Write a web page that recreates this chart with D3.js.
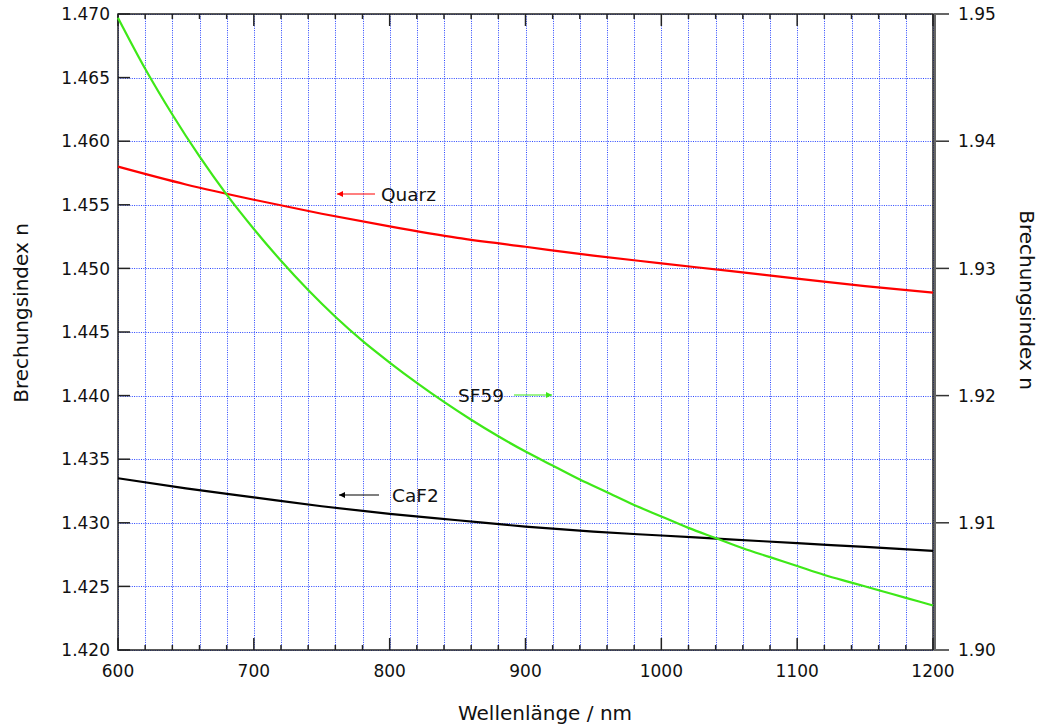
<!DOCTYPE html>
<html><head><meta charset="utf-8">
<script src="https://cdn.jsdelivr.net/npm/d3@7"></script>
<style>
body{margin:0;background:#fff;}
svg{display:block;font-family:"DejaVu Sans",sans-serif;}
</style></head>
<body><svg id="c" width="1040" height="727"></svg>
<script>
// ---- data ----
const quarzWl = [600,650,700,750,800,850,900,950,1000,1050,1100,1150,1200];
const quarzN  = [1.4580,1.4566,1.4554,1.4543,1.4533,1.4524,1.4517,1.4510,1.4504,1.4498,1.4492,1.4486,1.4481];
const caf2Wl  = [600,650,700,750,800,850,900,950,1000,1050,1100,1150,1200];
const caf2N   = [1.4335,1.4327,1.4320,1.4313,1.4307,1.4302,1.4297,1.4293,1.4290,1.4287,1.4284,1.4281,1.4278];
const sf59Wl  = [600,620,640,660,680,700,720,740,760,780,800,820,840,860,880,900,920,940,960,980,1000,1020,1040,1060,1080,1100,1120,1140,1160,1180,1200];
const sf59N   = [1.9497,1.9457,1.9421,1.9388,1.9358,1.9331,1.9306,1.9283,1.9262,1.9243,1.9226,1.9210,1.9195,1.9181,1.9168,1.9156,1.9145,1.9134,1.9124,1.9114,1.9105,1.9096,1.9088,1.9080,1.9073,1.9066,1.9059,1.9053,1.9047,1.9041,1.9035];
const xTicks      = [600,700,800,900,1000,1100,1200];
const leftTicks   = [1.420,1.425,1.430,1.435,1.440,1.445,1.450,1.455,1.460,1.465,1.470];
const rightTicks  = [1.90,1.91,1.92,1.93,1.94,1.95];
const xLabel = "Wellenlänge / nm";
const yLabel = "Brechungsindex n";

// ---- layout ----
const L=118, R=933, T=14, B=650;
const svg=d3.select("#c");
const x=d3.scaleLinear().domain([600,1200]).range([L,R]);
const yL=d3.scaleLinear().domain([1.420,1.470]).range([B,T]);
const yR=d3.scaleLinear().domain([1.90,1.95]).range([B,T]);
const gridBlue="#2a46ff";

// grid
const minorX=d3.range(600,1200.1,20);
svg.append("g").selectAll("line").data(minorX).join("line")
  .attr("x1",d=>Math.round(x(d))+0.5).attr("x2",d=>Math.round(x(d))+0.5).attr("y1",T).attr("y2",B)
  .attr("stroke",gridBlue).attr("stroke-width",1).attr("stroke-dasharray","1,1.3");
svg.append("g").selectAll("line").data(leftTicks).join("line")
  .attr("x1",L).attr("x2",R).attr("y1",d=>Math.round(yL(d))+0.5).attr("y2",d=>Math.round(yL(d))+0.5)
  .attr("stroke",gridBlue).attr("stroke-width",1).attr("stroke-dasharray","1,1.3");

// bottom axis (ticks inward)
const gb=svg.append("g").attr("transform",`translate(0,${B})`);
gb.selectAll("line.t").data(minorX).join("line").attr("class","t")
  .attr("x1",d=>x(d)).attr("x2",d=>x(d)).attr("y1",0).attr("y2",d=>d%100===0?-12:-5)
  .attr("stroke","#222").attr("stroke-width",1.5);
gb.selectAll("text").data(xTicks).join("text")
  .attr("x",d=>x(d)).attr("y",27).attr("text-anchor","middle").attr("font-size",17).attr("fill","#111")
  .text(d=>d);
// top ticks
const gt=svg.append("g").attr("transform",`translate(0,${T})`);
gt.selectAll("line").data(minorX).join("line")
  .attr("x1",d=>x(d)).attr("x2",d=>x(d)).attr("y1",0).attr("y2",d=>d%100===0?12:5)
  .attr("stroke","#222").attr("stroke-width",1.5);

// left axis
const gl=svg.append("g");
gl.selectAll("line").data(leftTicks).join("line")
  .attr("x1",L).attr("x2",L+12).attr("y1",d=>yL(d)).attr("y2",d=>yL(d))
  .attr("stroke","#222").attr("stroke-width",1.5);
gl.selectAll("text").data(leftTicks).join("text")
  .attr("x",L-8).attr("y",d=>yL(d)).attr("dy","0.36em").attr("text-anchor","end")
  .attr("font-size",17).attr("fill","#111").text(d=>d3.format(".3f")(d));

// right axis (ticks outward)
const gr=svg.append("g");
gr.selectAll("line").data(rightTicks).join("line")
  .attr("x1",R+1).attr("x2",R+16).attr("y1",d=>yR(d)).attr("y2",d=>yR(d))
  .attr("stroke","#333").attr("stroke-width",1.5);
gr.selectAll("text").data(rightTicks).join("text")
  .attr("x",R+25).attr("y",d=>yR(d)).attr("dy","0.36em").attr("text-anchor","start")
  .attr("font-size",17).attr("fill","#111").text(d=>d3.format(".2f")(d));

// frame
svg.append("rect").attr("x",L).attr("y",T).attr("width",R-L).attr("height",B-T)
  .attr("fill","none").attr("stroke","#222").attr("stroke-width",1.5);
svg.append("line").attr("x1",R+2).attr("x2",R+2).attr("y1",T).attr("y2",B+1)
  .attr("stroke","#666").attr("stroke-width",2);

// curves
const mk=(wl,n,sc)=>wl.map((w,i)=>[x(w),sc(n[i])]);
const line=d3.line().curve(d3.curveMonotoneX);
svg.append("path").attr("d",line(mk(quarzWl,quarzN,yL))).attr("fill","none").attr("stroke","#ff0000").attr("stroke-width",2.2);
svg.append("path").attr("d",line(mk(caf2Wl,caf2N,yL))).attr("fill","none").attr("stroke","#000").attr("stroke-width",2.2);
svg.append("path").attr("d",line(mk(sf59Wl,sf59N,yR))).attr("fill","none").attr("stroke","#3ee818").attr("stroke-width",2.2);

// annotations with arrows
const defs=svg.append("defs");
function marker(id,color){
  defs.append("marker").attr("id",id).attr("viewBox","0 0 10 10").attr("refX",10).attr("refY",5)
    .attr("markerWidth",10).attr("markerHeight",6).attr("markerUnits","userSpaceOnUse").attr("orient","auto")
    .append("path").attr("d","M0,0L10,5L0,10z").attr("fill",color);
}
marker("mr","#ff0000"); marker("mg","#3ee818"); marker("mk","#000");
function note(txt,tx,ty,x1,x2,color,mid){
  svg.append("line").attr("x1",x1).attr("x2",x2).attr("y1",ty).attr("y2",ty)
    .attr("stroke",color).attr("stroke-width",1.2).attr("marker-end",`url(#${mid})`);
  svg.append("text").attr("x",tx).attr("y",ty).attr("dy","0.36em").attr("font-size",18.5).attr("fill","#111").text(txt);
}
note("Quarz",381,194,375,337,"#ff0000","mr");
note("SF59",458,395,514,552,"#3ee818","mg");
note("CaF2",392,495,379,339,"#000","mk");

// axis titles
svg.append("text").attr("x",545).attr("y",720).attr("text-anchor","middle").attr("font-size",20).attr("fill","#111").text(xLabel);
svg.append("text").attr("transform","translate(28,313) rotate(-90)").attr("text-anchor","middle").attr("font-size",20).attr("fill","#111").text(yLabel);
svg.append("text").attr("transform","translate(1020,300) rotate(90)").attr("text-anchor","middle").attr("font-size",20).attr("fill","#111").text(yLabel);
</script></body></html>
